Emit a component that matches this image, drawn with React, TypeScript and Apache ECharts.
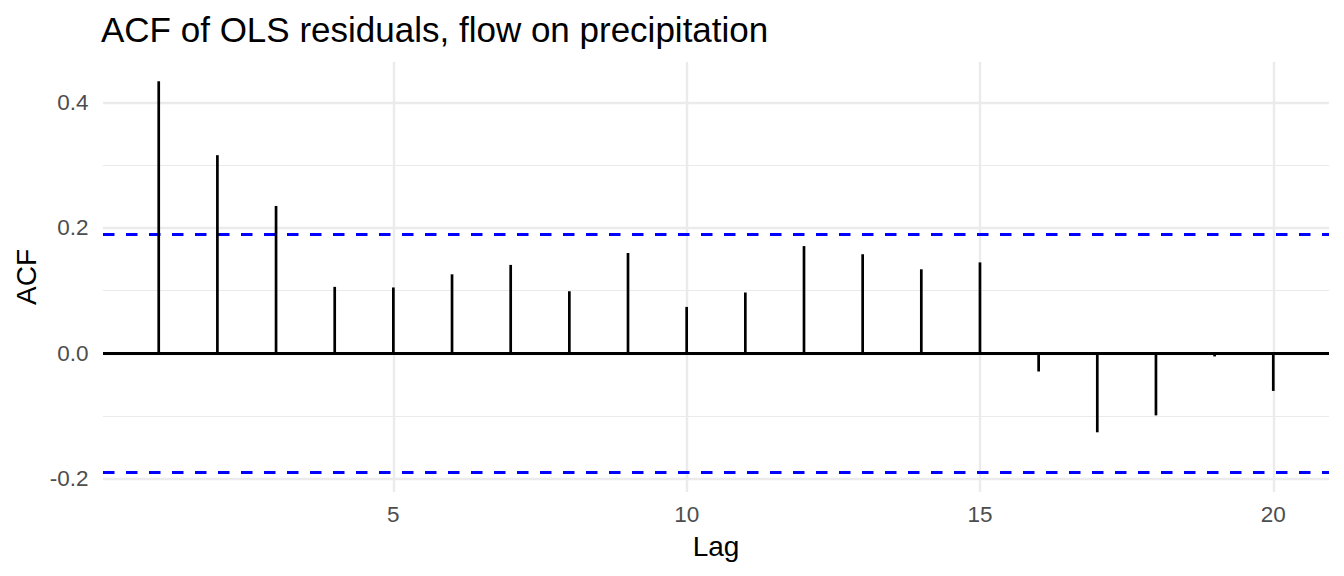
import { useEffect, useRef } from "react";
import * as echarts from "echarts";

const lags = [1, 2, 3, 4, 5, 6, 7, 8, 9, 10, 11, 12, 13, 14, 15, 16, 17, 18, 19, 20];
const acfValues = [
  0.434, 0.316, 0.235, 0.106, 0.105, 0.126, 0.141, 0.099, 0.16, 0.074,
  0.097, 0.171, 0.158, 0.134, 0.145, -0.029, -0.126, -0.099, -0.005, -0.06,
];
const ciBound = 0.189;
const xBreaks = [5, 10, 15, 20];
const yBreaks = [-0.2, 0, 0.2, 0.4];
const yMinorBreaks = [-0.1, 0.1, 0.3];
const xLimits = [0.05, 20.95];
const yLimits = [-0.2212, 0.4646];

const FONT = "'Liberation Sans', Arial, Helvetica, sans-serif";
const GRID_COLOR = "#EBEBEB";

function gridLine(axis: "xAxis" | "yAxis", v: number, width: number) {
  return { [axis]: v, lineStyle: { color: GRID_COLOR, width, type: "solid" } };
}

export default function App() {
  const containerRef = useRef<HTMLDivElement>(null);

  useEffect(() => {
    document.body.style.margin = "0";
    if (!containerRef.current) return;
    const chart = echarts.init(containerRef.current, undefined, { renderer: "svg" });

    const segmentData = lags.map((l, i) => [l, acfValues[i]]);

    chart.setOption({
      animation: false,
      backgroundColor: "#ffffff",
      grid: { left: 103, right: 15, top: 62, bottom: 84 },
      xAxis: {
        type: "value",
        min: xLimits[0],
        max: xLimits[1],
        splitLine: { show: false },
        axisLine: { show: false },
        axisTick: { show: false },
        axisLabel: {
          customValues: xBreaks,
          color: "#4D4D4D",
          fontSize: 22.5,
          fontFamily: FONT,
          margin: 11,
        },
      },
      yAxis: {
        type: "value",
        min: yLimits[0],
        max: yLimits[1],
        splitLine: { show: false },
        axisLine: { show: false },
        axisTick: { show: false },
        axisLabel: {
          customValues: yBreaks,
          color: "#4D4D4D",
          fontSize: 22.5,
          fontFamily: FONT,
          margin: 14.5,
          formatter: (v: number) => v.toFixed(1),
        },
      },
      graphic: [
        {
          type: "text",
          x: 101,
          y: 29,
          style: {
            text: "ACF of OLS residuals, flow on precipitation",
            font: `35px ${FONT}`,
            fill: "#000000",
            align: "left",
            verticalAlign: "middle",
            textAlign: "left",
            textVerticalAlign: "middle",
          },
        },
        {
          type: "text",
          x: 716,
          y: 546,
          style: {
            text: "Lag",
            font: `28px ${FONT}`,
            fill: "#000000",
            align: "center",
            verticalAlign: "middle",
            textAlign: "center",
            textVerticalAlign: "middle",
          },
        },
        {
          type: "text",
          x: 26,
          y: 277,
          rotation: Math.PI / 2,
          style: {
            text: "ACF",
            font: `28px ${FONT}`,
            fill: "#000000",
            align: "center",
            verticalAlign: "middle",
            textAlign: "center",
            textVerticalAlign: "middle",
          },
        },
      ],
      series: [
        {
          type: "line",
          data: [],
          z: 1,
          silent: true,
          markLine: {
            z: 1,
            silent: true,
            symbol: ["none", "none"],
            label: { show: false },
            data: [
              ...yMinorBreaks.map((v) => gridLine("yAxis", v, 1.2)),
              ...yBreaks.map((v) => gridLine("yAxis", v, 2.4)),
              ...xBreaks.map((v) => gridLine("xAxis", v, 2.4)),
            ],
          },
        },
        {
          type: "line",
          data: [],
          z: 2,
          silent: true,
          markLine: {
            z: 2,
            silent: true,
            symbol: ["none", "none"],
            label: { show: false },
            data: [ciBound, -ciBound].map((v) => ({
              yAxis: v,
              lineStyle: { color: "#0000FF", width: 3, type: [11.5, 11.5] },
            })),
          },
        },
        {
          type: "bar",
          data: segmentData,
          z: 3,
          barWidth: 2.7,
          itemStyle: { color: "#000000" },
          silent: true,
        },
        {
          type: "line",
          data: [],
          z: 4,
          silent: true,
          markLine: {
            z: 4,
            silent: true,
            symbol: ["none", "none"],
            label: { show: false },
            data: [{ yAxis: 0, lineStyle: { color: "#000000", width: 3, type: "solid" } }],
          },
        },
      ],
    });

    return () => {
      chart.dispose();
    };
  }, []);

  return <div ref={containerRef} style={{ width: "1344px", height: "576px" }} />;
}
